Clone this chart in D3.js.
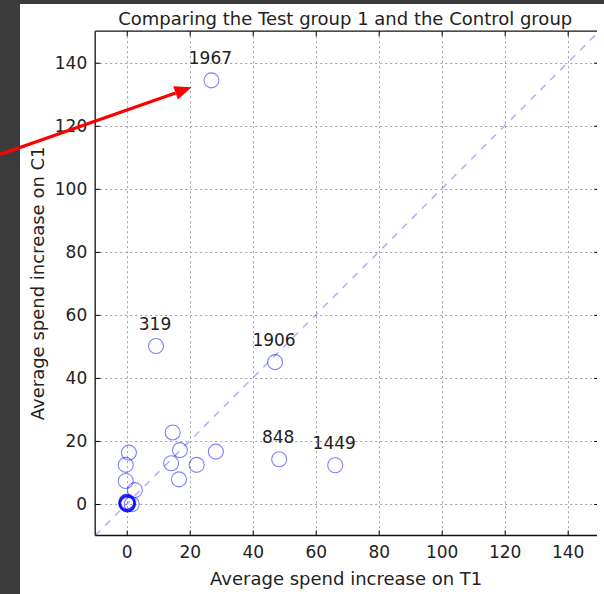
<!DOCTYPE html>
<head>
  <meta charset='utf-8'>
  <script src='https://d3js.org/d3.v7.min.js'></script>
  <style>
    body { margin: 0; background: #3b3b3b; }
    text { font-family: 'DejaVu Sans', sans-serif; fill: #222; }
  </style>
</head>

<body>
  <script>
// average spend increase per test cell, T1 vs C1
const t1Spend = [26.9, 9.3, 47.1, 48.4, 66.2, 14.6, 16.9, 14.1, 22.2, 28.3, 16.6,
                 0.7, -0.3, -0.3, 2.6, 0.0, 0.2, -0.2, 0.4, 0.1, 1.6, 0.3,
                 -0.1, 0.5, 0.2, 0.0];
const c1Spend = [134.4, 50.1, 45.0, 14.2, 12.3, 22.7, 17.1, 12.9, 12.4, 16.6, 7.8,
                 16.3, 12.4, 7.3, 4.4, 0.0, 0.3, 0.5, -0.1, 0.8, -0.1, 0.2,
                 0.1, 0.4, -0.2, 0.6];
const pointLabels = ['1967', '319', '1906', '848', '1449'];

const xTicks = [0, 20, 40, 60, 80, 100, 120, 140];
const yTicks = [0, 20, 40, 60, 80, 100, 120, 140];

const titleText = 'Comparing the Test group 1 and the Control group';
const xLabel = 'Average spend increase on T1';
const yLabel = 'Average spend increase on C1';

// arrow (data coords): tail, tip
const arrowFrom = [-40.2, 110.9];
const arrowTo = [20.6, 132.2];

const width = 604, height = 594;
const plot = {left: 95.2, right: 599.2, top: 31.2, bottom: 535.5};
const cropRight = 597;

const svg = d3.select('body').append('svg')
  .attr('width', width).attr('height', height)
  .style('display', 'block');

svg.append('rect').attr('x', 20).attr('y', 4)
  .attr('width', width - 20).attr('height', height - 4)
  .attr('fill', '#fff');

const x = d3.scaleLinear().domain([-10, 150]).range([plot.left, plot.right]);
const y = d3.scaleLinear().domain([-10, 150]).range([plot.bottom, plot.top]);

svg.append('clipPath').attr('id', 'clip')
  .append('rect')
  .attr('x', plot.left).attr('y', plot.top)
  .attr('width', cropRight - plot.left).attr('height', plot.bottom - plot.top);

// grid
const grid = svg.append('g')
  .attr('stroke', '#a0a0a0').attr('stroke-width', 1).attr('stroke-dasharray', '2,3');
grid.selectAll('.gx').data(xTicks).enter().append('line')
  .attr('x1', d => Math.round(x(d)) + 0.5).attr('x2', d => Math.round(x(d)) + 0.5)
  .attr('y1', plot.top).attr('y2', plot.bottom);
grid.selectAll('.gy').data(yTicks).enter().append('line')
  .attr('y1', d => Math.round(y(d)) + 0.5).attr('y2', d => Math.round(y(d)) + 0.5)
  .attr('x1', plot.left).attr('x2', cropRight);

const inner = svg.append('g').attr('clip-path', 'url(#clip)');

// y = x reference line
inner.append('line')
  .attr('x1', x(-10)).attr('y1', y(-10))
  .attr('x2', x(150)).attr('y2', y(150))
  .attr('stroke', 'blue').attr('stroke-opacity', 0.3)
  .attr('stroke-width', 1.6).attr('stroke-dasharray', '7,7');

// points
inner.selectAll('circle')
  .data(t1Spend.map((v, i) => ({t: v, c: c1Spend[i]})))
  .enter().append('circle')
  .attr('cx', d => x(d.t)).attr('cy', d => y(d.c))
  .attr('r', 7.5)
  .attr('fill', 'none')
  .attr('stroke', 'blue').attr('stroke-opacity', 0.5).attr('stroke-width', 1.1);

// labels above the named points
svg.append('g').selectAll('text')
  .data(pointLabels)
  .enter().append('text')
  .attr('x', (d, i) => x(t1Spend[i]) - 1)
  .attr('y', (d, i) => y(c1Spend[i]) - 16)
  .attr('text-anchor', 'middle')
  .attr('font-size', 17)
  .text(d => d);

// axes, ticks inward on all sides
const tickLen = 5;
svg.append('g').attr('transform', `translate(0,${plot.bottom})`)
  .call(d3.axisBottom(x).tickValues(xTicks).tickSize(-tickLen).tickPadding(10).tickFormat(d3.format('d')))
  .call(g => g.select('.domain').remove())
  .call(g => g.selectAll('text').attr('font-size', 17).attr('font-family', 'DejaVu Sans').attr('fill', '#222'));
svg.append('g').attr('transform', `translate(0,${plot.top})`)
  .call(d3.axisTop(x).tickValues(xTicks).tickSize(-tickLen).tickFormat(''))
  .call(g => g.select('.domain').remove());
svg.append('g').attr('transform', `translate(${plot.left},0)`)
  .call(d3.axisLeft(y).tickValues(yTicks).tickSize(-tickLen).tickPadding(8).tickFormat(d3.format('d')))
  .call(g => g.select('.domain').remove())
  .call(g => g.selectAll('text').attr('font-size', 17).attr('font-family', 'DejaVu Sans').attr('fill', '#222'));
svg.append('g').attr('transform', `translate(${plot.right},0)`)
  .call(d3.axisRight(y).tickValues(yTicks).tickSize(-tickLen).tickFormat(''))
  .call(g => g.select('.domain').remove());

// spines
const spines = svg.append('g').attr('stroke', '#111').attr('stroke-width', 1.3);
spines.append('line').attr('x1', plot.left).attr('x2', cropRight).attr('y1', plot.top).attr('y2', plot.top);
spines.append('line').attr('x1', plot.left).attr('x2', cropRight).attr('y1', plot.bottom).attr('y2', plot.bottom);
spines.append('line').attr('x1', plot.left).attr('x2', plot.left).attr('y1', plot.top).attr('y2', plot.bottom);

// crop the right edge like the screenshot
svg.append('rect').attr('x', cropRight).attr('y', 4)
  .attr('width', width - cropRight).attr('height', height - 4).attr('fill', '#fff');

// titles
svg.append('text')
  .attr('x', (plot.left + plot.right) / 2 - 2).attr('y', 25)
  .attr('text-anchor', 'middle').attr('font-size', 18)
  .text(titleText);
svg.append('text')
  .attr('x', (plot.left + plot.right) / 2 - 1).attr('y', 585)
  .attr('text-anchor', 'middle').attr('font-size', 18)
  .text(xLabel);
svg.append('text')
  .attr('transform', `translate(44,${(plot.top + plot.bottom) / 2}) rotate(-90)`)
  .attr('text-anchor', 'middle').attr('font-size', 18)
  .text(yLabel);

// red arrow
const ax0 = x(arrowFrom[0]), ay0 = y(arrowFrom[1]);
const ax1 = x(arrowTo[0]), ay1 = y(arrowTo[1]);
const ang = Math.atan2(ay1 - ay0, ax1 - ax0);
const headLen = 17, headHalf = 7;
const bx = ax1 - headLen * Math.cos(ang), by = ay1 - headLen * Math.sin(ang);
svg.append('line')
  .attr('x1', ax0).attr('y1', ay0).attr('x2', bx).attr('y2', by)
  .attr('stroke', 'red').attr('stroke-width', 3.2);
svg.append('path')
  .attr('d', d3.line()([
    [ax1, ay1],
    [bx - headHalf * Math.sin(ang), by + headHalf * Math.cos(ang)],
    [bx + headHalf * Math.sin(ang), by - headHalf * Math.cos(ang)]
  ]) + 'Z')
  .attr('fill', 'red');
  </script>
</body>
